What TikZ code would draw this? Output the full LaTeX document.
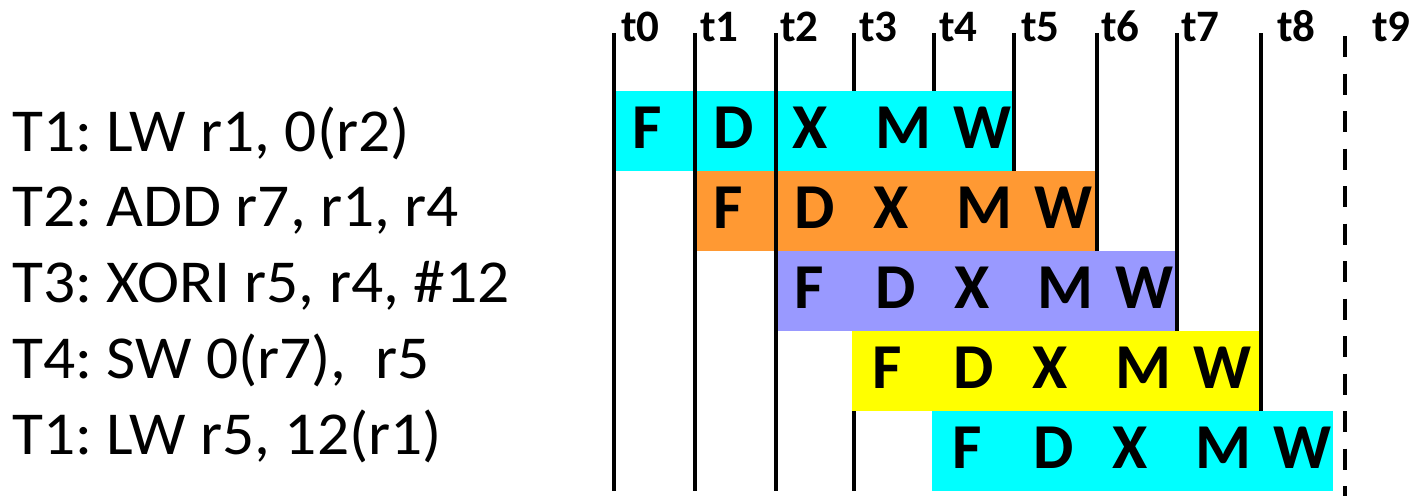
\documentclass[tikz,border=0pt]{standalone}
\usepackage{fontspec}
\setmainfont{Carlito}
\frenchspacing
\definecolor{cyanbox}{RGB}{0,255,255}
\definecolor{orangebox}{RGB}{255,153,51}
\definecolor{purplebox}{RGB}{153,153,255}
\definecolor{yellowbox}{RGB}{255,255,0}
\newcommand{\widetext}[1]{\scalebox{1.04}[1]{#1}}
\begin{document}
\begin{tikzpicture}[x=1pt,y=-1pt,
  tick/.style={line width=4.7pt},
  dtick/.style={line width=4.7pt, dash pattern=on 21pt off 16.5pt},
  stagebox/.style={draw=none, inner sep=0pt, outer sep=0pt, minimum height=80pt, anchor=north west},
  letter/.style={anchor=base, font=\fontsize{64}{64}\selectfont\bfseries, inner sep=0pt},
  instr/.style={anchor=base west, font=\fontsize{61}{61}\selectfont, inner sep=0pt},
  tlabel/.style={anchor=base west, font=\fontsize{45}{45}\selectfont\bfseries, inner sep=0pt}]
\useasboundingbox (0,0) rectangle (1414,496);

% time line coordinates
\foreach \n/\x in {0/614,1/695,2/776,3/854,4/934,5/1014,6/1097,7/1177,8/1261}{
  \coordinate (top\n) at (\x,33);
  \coordinate (bot\n) at (\x,491);
}
\coordinate (top9) at (1345,36);
\coordinate (bot9) at (1345,496);

% lines behind the boxes
\foreach \n in {3,4,5,6,7,8}{ \draw[tick] (top\n) -- (bot\n); }
\draw[dtick] (top9) -- (bot9);

% stage boxes
\node[stagebox, fill=cyanbox,   minimum width=400pt] (row1) at (612,91)  {};
\node[stagebox, fill=orangebox, minimum width=402pt] (row2) at (693,171) {};
\node[stagebox, fill=purplebox, minimum width=401pt] (row3) at (774,251) {};
\node[stagebox, fill=yellowbox, minimum width=407pt] (row4) at (852,331) {};
\node[stagebox, fill=cyanbox,   minimum width=401pt] (row5) at (932,411) {};

% lines in front of the boxes
\foreach \n in {0,1,2}{ \draw[tick] (top\n) -- (bot\n); }

% stage letters
\foreach \r/\s in {1/614,2/695,3/776,4/854,5/934}{
  \pgfmathsetmacro{\yb}{148+80*(\r-1)}
  \node[letter] (F\r) at (\s+33,\yb)  {F};
  \node[letter] (D\r) at (\s+120,\yb) {D};
  \node[letter] (X\r) at (\s+196,\yb) {X};
  \node[letter] (M\r) at (\s+289,\yb) {M};
  \node[letter] (W\r) at (\s+368,\yb) {W};
}

% time labels
\foreach \n/\x in {0/621,1/700,2/780,3/859,4/939,5/1021,6/1101,7/1181,8/1277,9/1372}{
  \node[tlabel] (lab\n) at (\x,41) {t\n};
}

% instructions
\node[instr] (i1) at (12,151)    {\widetext{T1: LW r1, 0(r2)}};
\node[instr] (i2) at (12,226.75) {\widetext{T2: ADD r7, r1, r4}};
\node[instr] (i3) at (12,302.5)  {\widetext{T3: XORI r5, r4, \#12}};
\node[instr] (i4) at (12,378.25) {\widetext{T4: SW 0(r7),\ \ r5}};
\node[instr] (i5) at (12,454)    {\widetext{T1: LW r5, 12(r1)}};
\end{tikzpicture}
\end{document}
